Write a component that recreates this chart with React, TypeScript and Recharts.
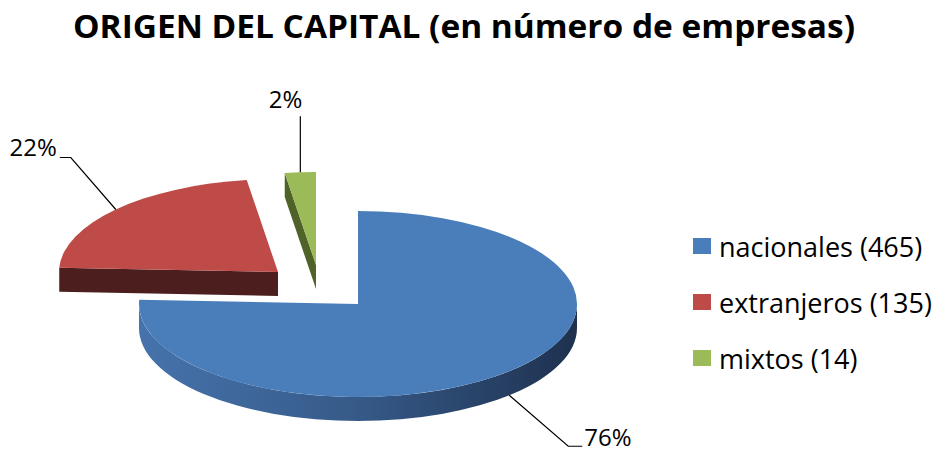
import React from 'react';
import { PieChart, Pie, Cell, Legend } from 'recharts';

// ---- data ----
const categories = ['nacionales', 'extranjeros', 'mixtos'];
const companyCounts = [465, 135, 14];
const chartTitle = 'ORIGEN DEL CAPITAL (en número de empresas)';

// ---- styles ----
const topColors = ['#4A7EBB', '#BE4B48', '#9BBB59'];
const sideColors = ['#2F4F7A', '#4D1E1E', '#4F6228'];
const FONT = '"Open Sans", "DejaVu Sans", sans-serif';
const TILT = 93 / 219;
const DEPTH = 24;
// exploded offsets of each slice (pixels)
const EXPLODE: number[][] = [
  [0, 0],
  [-80, -32],
  [-42, -39],
];
// label leader layout relative to anchor point on the rim
const LABEL_LAYOUT = [
  { bottom: true, elbow: [59, 51], end: [73, 51], text: [75, 51], anchor: 'start' },
  { bottom: false, elbow: [-45, -52], end: [-56, -52], text: [-59, -54], anchor: 'end' },
  { bottom: false, elbow: [0, -56], end: [0, -56], text: [2, -64], anchor: 'end' },
];

const data = categories.map((name, i) => ({ name, value: companyCounts[i] }));

const idxOf = (props: any) => {
  const name = props?.payload?.name ?? props?.name;
  const i = categories.indexOf(name);
  return i < 0 ? 0 : i;
};

const Slice3D = (props: any) => {
  const { cx, cy, outerRadius, startAngle, endAngle } = props;
  const idx = idxOf(props);
  const [dx, dy] = EXPLODE[idx];
  const rx = outerRadius;
  const ry = outerRadius * TILT;
  const ox = cx + dx;
  const oy = cy + dy;
  const pt = (deg: number, d = 0) => {
    const r = (deg * Math.PI) / 180;
    return [ox + rx * Math.cos(r), oy - ry * Math.sin(r) + d];
  };
  const a0 = Math.max(startAngle, endAngle);
  const a1 = Math.min(startAngle, endAngle);
  const large = a0 - a1 > 180 ? 1 : 0;
  const p0 = pt(a0);
  const p1 = pt(a1);
  const top = `M${ox},${oy} L${p0[0]},${p0[1]} A${rx},${ry} 0 ${large} 1 ${p1[0]},${p1[1]} Z`;

  const rims: string[] = [];
  for (let k = -2; k <= 1; k++) {
    const lo = Math.max(a1, -180 + 360 * k);
    const hi = Math.min(a0, 360 * k);
    if (hi - lo > 0.01) {
      const h = pt(hi);
      const l = pt(lo);
      const lb = pt(lo, DEPTH);
      const hb = pt(hi, DEPTH);
      const lg = hi - lo > 180 ? 1 : 0;
      rims.push(
        `M${h[0]},${h[1]} A${rx},${ry} 0 ${lg} 1 ${l[0]},${l[1]} L${lb[0]},${lb[1]} A${rx},${ry} 0 ${lg} 0 ${hb[0]},${hb[1]} Z`
      );
    }
  }
  const faces: string[] = [];
  const face = (a: number) => {
    const p = pt(a);
    const pb = pt(a, DEPTH);
    return `M${ox},${oy} L${p[0]},${p[1]} L${pb[0]},${pb[1]} L${ox},${oy + DEPTH} Z`;
  };
  if (Math.cos((a0 * Math.PI) / 180) < -1e-6) faces.push(face(a0));
  if (Math.cos((a1 * Math.PI) / 180) > 1e-6) faces.push(face(a1));

  const gradId = `rimGrad${idx}`;
  return (
    <g>
      <defs>
        <linearGradient id={gradId} gradientUnits="userSpaceOnUse" x1={ox - rx} y1={0} x2={ox + rx} y2={0}>
          {idx === 0 ? (
            <>
              <stop offset="0%" stopColor="#4673AC" />
              <stop offset="50%" stopColor="#365A88" />
              <stop offset="100%" stopColor="#1E314F" />
            </>
          ) : (
            <>
              <stop offset="0%" stopColor={sideColors[idx]} />
              <stop offset="100%" stopColor={sideColors[idx]} />
            </>
          )}
        </linearGradient>
      </defs>
      {faces.map((d, i) => (
        <path key={`f${i}`} d={d} fill={sideColors[idx]} />
      ))}
      {rims.map((d, i) => (
        <path key={`r${i}`} d={d} fill={`url(#${gradId})`} />
      ))}
      <path d={top} fill={topColors[idx]} />
    </g>
  );
};

const renderLabel = (props: any) => {
  const { cx, cy, outerRadius, midAngle, percent } = props;
  const idx = idxOf(props);
  const L = LABEL_LAYOUT[idx];
  const [dx, dy] = EXPLODE[idx];
  const rx = outerRadius;
  const ry = outerRadius * TILT;
  const r = (midAngle * Math.PI) / 180;
  const ax = cx + dx + rx * Math.cos(r);
  const ay = cy + dy - ry * Math.sin(r) + (L.bottom ? DEPTH : 0);
  const ex = ax + L.elbow[0];
  const ey = ay + L.elbow[1];
  const fx = ax + L.end[0];
  const fy = ay + L.end[1];
  return (
    <g>
      <polyline points={`${ax},${ay} ${ex},${ey} ${fx},${fy}`} fill="none" stroke="#000" strokeWidth={1.2} />
      <text
        x={ax + L.text[0]}
        y={ay + L.text[1]}
        textAnchor={L.anchor as any}
        fontFamily={FONT}
        fontSize={24}
        fill="#000"
      >
        {`${Math.round(percent * 100)}%`}
      </text>
    </g>
  );
};

const renderLegend = (props: any) => {
  const payload = props?.payload ?? [];
  const items = categories.map((c, i) => {
    const entry = payload.find((p: any) => p.value === c);
    return { label: `${c} (${companyCounts[i]})`, color: entry?.color ?? topColors[i] };
  });
  return (
    <div style={{ fontFamily: FONT, fontSize: 27, color: '#000' }}>
      {items.map((it, i) => (
        <div key={i} style={{ display: 'flex', alignItems: 'center', height: 56, whiteSpace: 'nowrap' }}>
          <span style={{ display: 'inline-block', width: 18, height: 16, background: it.color, marginRight: 8 }} />
          <span>{it.label}</span>
        </div>
      ))}
    </div>
  );
};

export default function App() {
  return (
    <div style={{ position: 'absolute', left: 0, top: 0, width: 938, height: 453, background: '#fff' }}>
      <PieChart width={938} height={453} margin={{ top: 0, right: 0, bottom: 0, left: 0 }}>
        <text
          x={73}
          y={38}
          textLength={782}
          lengthAdjust="spacingAndGlyphs"
          fontFamily={FONT}
          fontWeight="bold"
          fontSize={32}
          fill="#000"
        >
          {chartTitle}
        </text>
        <Pie
          data={data}
          dataKey="value"
          nameKey="name"
          cx={358}
          cy={304}
          outerRadius={219}
          startAngle={90}
          endAngle={-270}
          isAnimationActive={false}
          labelLine={false}
          label={renderLabel}
          shape={Slice3D}
          inactiveShape={Slice3D}
          activeShape={Slice3D}
          stroke="none"
        >
          {data.map((d, i) => (
            <Cell key={d.name} fill={topColors[i]} />
          ))}
        </Pie>
        <Legend
          content={renderLegend}
          layout="vertical"
          wrapperStyle={{ position: 'absolute', left: 693, top: 218, width: 245 }}
        />
      </PieChart>
    </div>
  );
}
